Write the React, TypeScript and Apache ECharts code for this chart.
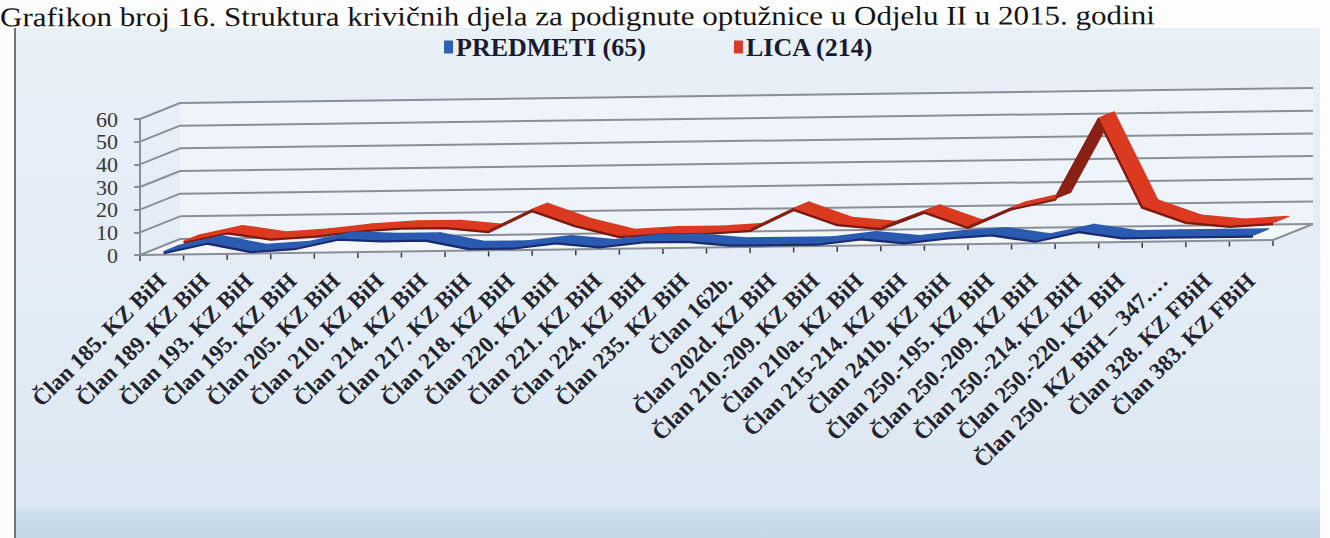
import React, { useEffect, useRef } from "react";
import * as echarts from "echarts";

const titleText =
  "Grafikon broj 16. Struktura krivičnih djela za podignute optužnice u Odjelu II u 2015. godini";

const categories = [
  "Član 185. KZ BiH",
  "Član 189. KZ BiH",
  "Član 193. KZ BiH",
  "Član 195. KZ BiH",
  "Član 205. KZ BiH",
  "Član 210. KZ BiH",
  "Član 214. KZ BiH",
  "Član 217. KZ BiH",
  "Član 218. KZ BiH",
  "Član 220. KZ BiH",
  "Član 221. KZ BiH",
  "Član 224. KZ BiH",
  "Član 235. KZ BiH",
  "Član 162b.",
  "Član 202d. KZ BiH",
  "Član 210.-209. KZ BiH",
  "Član 210a. KZ BiH",
  "Član 215-214. KZ BiH",
  "Član 241b. KZ BiH",
  "Član 250.-195. KZ BiH",
  "Član 250.-209. KZ BiH",
  "Član 250.-214. KZ BiH",
  "Član 250.-220. KZ BiH",
  "Član 250. KZ BiH – 347.…",
  "Član 328. KZ FBiH",
  "Član 383. KZ FBiH",
];

const predmeti = [1, 5, 1, 2, 6, 5, 5, 1, 1, 3, 1, 3, 3, 1, 1, 1, 3, 1, 3, 4, 1, 5, 2, 2, 2, 2];
const lica = [2, 6, 3, 4, 6, 7, 7, 5, 14, 7, 2, 3, 3, 4, 13, 6, 4, 11, 4, 12, 16, 51, 12, 5, 3, 4];

const seriesNames = ["PREDMETI (65)", "LICA (214)"];
const yTicks = [0, 10, 20, 30, 40, 50, 60];

// 3D look: depth vector and slight rotation (shear)
const DX = 40;
const DY = -16;
const SHEAR = -0.0132;
const RIBBON = 0.36;

export default function App() {
  const ref = useRef<HTMLDivElement>(null);

  useEffect(() => {
    if (!ref.current) return;
    const chart = echarts.init(ref.current, undefined, { renderer: "svg" });
    const N = categories.length;

    const proj = (p: number[], d: number, xL: number) => [
      p[0] + DX * d,
      p[1] + SHEAR * (p[0] - xL) + DY * d,
    ];

    const wallsRender = (params: any, api: any) => {
      const c0 = api.coord([0, 0]);
      const cN = api.coord([N - 1, 0]);
      const bw = (cN[0] - c0[0]) / (N - 1);
      const xL = c0[0] - bw / 2;
      const xR = cN[0] + bw / 2;
      const P = (x: number, v: number, d: number) => {
        const y = api.coord([0, v])[1];
        return proj([x, y], d, xL);
      };
      const lineStyle = { stroke: "#8a8e96", lineWidth: 2 };
      const children: any[] = [];
      children.push({
        type: "polygon",
        shape: { points: [P(xL, 0, 1), P(xR, 0, 1), P(xR, 60, 1), P(xL, 60, 1)] },
        style: { fill: "rgba(255,255,255,0.35)" },
      });
      children.push({
        type: "polygon",
        shape: { points: [P(xL, 0, 0), P(xR, 0, 0), P(xR, 0, 1), P(xL, 0, 1)] },
        style: { fill: "rgba(245,247,250,0.9)" },
      });
      yTicks.forEach((v) => {
        const a = P(xL, v, 1);
        const b = P(xR, v, 1);
        children.push({
          type: "line",
          shape: { x1: a[0], y1: a[1], x2: b[0], y2: b[1] },
          style: lineStyle,
        });
        const f = P(xL, v, 0);
        children.push({
          type: "line",
          shape: { x1: f[0], y1: f[1], x2: a[0], y2: a[1] },
          style: lineStyle,
        });
      });
      const f0 = P(xL, 0, 0);
      const f1 = P(xR, 0, 0);
      const r1 = P(xR, 0, 1);
      children.push({
        type: "line",
        shape: { x1: f0[0], y1: f0[1], x2: f1[0], y2: f1[1] },
        style: lineStyle,
      });
      children.push({
        type: "line",
        shape: { x1: f1[0], y1: f1[1], x2: r1[0], y2: r1[1] },
        style: lineStyle,
      });
      for (let k = 0; k <= N; k++) {
        const t = P(xL + k * bw, 0, 0);
        children.push({
          type: "line",
          shape: { x1: t[0], y1: t[1] + 1, x2: t[0], y2: t[1] + 6 },
          style: { stroke: "#3a3a3a", lineWidth: 1.5 },
        });
      }
      return { type: "group", children };
    };

    const ribbonRender =
      (vals: number[], d: number, top: string, dark: string, edge: string) =>
      (params: any, api: any) => {
        const c0 = api.coord([0, 0]);
        const cN = api.coord([N - 1, 0]);
        const bw = (cN[0] - c0[0]) / (N - 1);
        const xL = c0[0] - bw / 2;
        const pts = vals.map((v, i) => api.coord([i, v]));
        const d0 = d - RIBBON / 2;
        const d1 = d + RIBBON / 2;
        const children: any[] = [];
        children.push({
          type: "polyline",
          shape: {
            points: pts.map((p: number[]) => {
              const q = proj(p, d0, xL);
              return [q[0] - 1, q[1] + 1.5];
            }),
          },
          style: { stroke: edge, lineWidth: 3, fill: null, lineJoin: "round" },
        });
        for (let i = 0; i < pts.length - 1; i++) {
          const a0 = proj(pts[i], d0, xL);
          const b0 = proj(pts[i + 1], d0, xL);
          const b1 = proj(pts[i + 1], d1, xL);
          const a1 = proj(pts[i], d1, xL);
          const rising = vals[i + 1] > vals[i] + 4;
          const col = rising ? dark : top;
          children.push({
            type: "polygon",
            shape: { points: [a0, b0, b1, a1] },
            style: { fill: col, stroke: col, lineWidth: 1.5, lineJoin: "round" },
          });
        }
        return { type: "group", children };
      };

    const option: any = {
      animation: false,
      backgroundColor: "#fdfdfd",
      graphic: [
        {
          type: "rect",
          z: -10,
          shape: { x: 15, y: 28, width: 1305, height: 512 },
          style: {
            fill: {
              type: "linear",
              x: 0,
              y: 0,
              x2: 0,
              y2: 1,
              colorStops: [
                { offset: 0, color: "#e8f0f8" },
                { offset: 0.6, color: "#e2ecf6" },
                { offset: 0.93, color: "#dbe7f2" },
                { offset: 0.95, color: "#c9dcec" },
                { offset: 1, color: "#c4d8e9" },
              ],
            },
          },
        },
        {
          type: "line",
          z: -9,
          shape: { x1: 15, y1: 28, x2: 15, y2: 538 },
          style: { stroke: "#6f747c", lineWidth: 2 },
        },
        {
          type: "text",
          z: 10,
          x: 0,
          y: 17,
          rotation: 0.0015,
          scaleX: 1.15,
          style: {
            text: titleText,
            font: '27px "Liberation Serif"',
            fill: "#141414",
            verticalAlign: "middle",
          },
        },
      ],
      legend: {
        data: [
          { name: seriesNames[0], itemStyle: { color: "#2f62b0" } },
          { name: seriesNames[1], itemStyle: { color: "#d83a26" } },
        ],
        icon: "rect",
        itemWidth: 9,
        itemHeight: 13,
        itemGap: 88,
        left: 439,
        top: 29,
        selectedMode: false,
        textStyle: {
          fontFamily: "Liberation Serif",
          fontWeight: "bold",
          fontSize: 26,
          color: "#1a1a30",
          padding: [0, 0, 0, -2],
        },
      },
      grid: { left: 140, right: 57, top: 119, bottom: 283, containLabel: false },
      xAxis: {
        type: "category",
        data: categories,
        boundaryGap: true,
        axisLine: { show: false },
        axisTick: { show: false },
        splitLine: { show: false },
        axisLabel: {
          interval: 0,
          rotate: 45,
          margin: 22,
          fontFamily: "Liberation Serif",
          fontWeight: "bold",
          fontSize: 23,
          color: "#23232e",
        },
      },
      yAxis: {
        type: "value",
        min: 0,
        max: 60,
        interval: 10,
        splitLine: { show: false },
        axisLine: { show: true, lineStyle: { color: "#8a8e96", width: 2 } },
        axisTick: { show: true, length: 6, lineStyle: { color: "#8a8e96", width: 2 } },
        axisLabel: {
          margin: 22,
          showMinLabel: true,
          showMaxLabel: true,
          hideOverlap: false,
          fontFamily: "Liberation Serif",
          fontSize: 22,
          lineHeight: 22,
          color: "#383838",
        },
      },
      series: [
        {
          type: "custom",
          name: "walls",
          silent: true,
          clip: false,
          z: 1,
          data: [[0, 0]],
          renderItem: wallsRender,
        },
        {
          type: "custom",
          name: seriesNames[1],
          clip: false,
          z: 3,
          itemStyle: { color: "#d83a26" },
          data: [[0, 0]],
          renderItem: ribbonRender(lica, 0.75, "#dc3a20", "#8a2114", "#7a1a10"),
        },
        {
          type: "custom",
          name: seriesNames[0],
          clip: false,
          z: 4,
          itemStyle: { color: "#2f62b0" },
          data: [[0, 0]],
          renderItem: ribbonRender(predmeti, 0.25, "#2a5bb0", "#1e3282", "#1c2a70"),
        },
      ],
    };

    chart.setOption(option);
    return () => chart.dispose();
  }, []);

  return (
    <div
      ref={ref}
      style={{ position: "fixed", left: 0, top: 0, width: 1330, height: 538 }}
    />
  );
}
